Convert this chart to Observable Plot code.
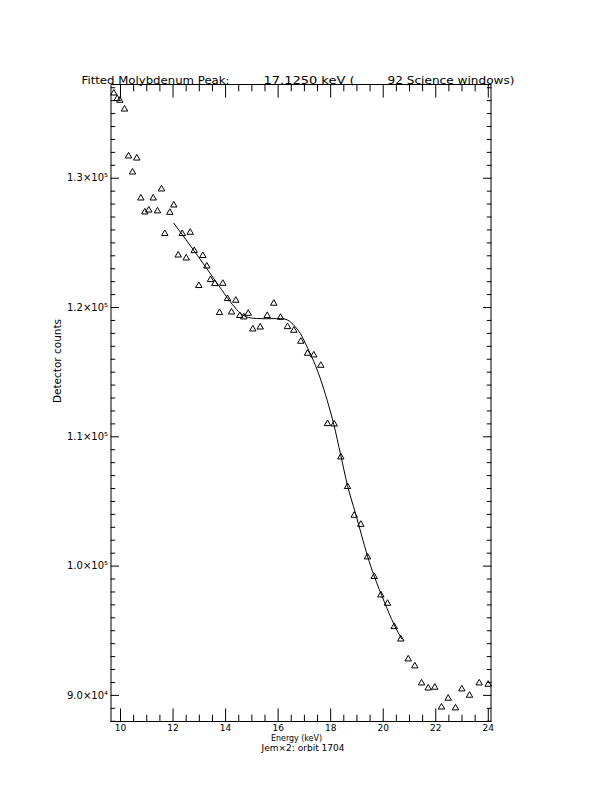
<!DOCTYPE html>
<html>
<head>
<meta charset="utf-8">
<script src="https://cdn.jsdelivr.net/npm/d3@7"></script>
<script src="https://cdn.jsdelivr.net/npm/@observablehq/plot@0.6"></script>
<style>
  body { margin: 0; background: #fff; }
  #chart svg { display: block; }
</style>
</head>
<body>
<div id="chart"></div>
<script>
// measured points (energy in keV, detector counts)
const energy = [9.745, 9.874, 9.973, 10.152, 10.305, 10.457, 10.620, 10.773, 10.925, 11.077,
  11.245, 11.408, 11.561, 11.686, 11.877, 12.029, 12.196, 12.349, 12.501, 12.653,
  12.806, 12.981, 13.133, 13.285, 13.426, 13.590, 13.769, 13.894, 14.073, 14.225,
  14.389, 14.541, 14.694, 14.861, 15.036, 15.318, 15.584, 15.836, 16.091, 16.357,
  16.597, 16.863, 17.118, 17.358, 17.625, 17.880, 18.135, 18.386, 18.641, 18.896,
  19.147, 19.402, 19.657, 19.909, 20.164, 20.419, 20.670, 20.952, 21.203, 21.458,
  21.713, 21.964, 22.219, 22.474, 22.752, 22.992, 23.285, 23.654, 23.997]
const counts = [136650, 136220, 136090, 135410, 131780, 130540, 131620, 128530, 127450, 127600,
  128530, 127530, 129230, 125780, 127420, 127990, 124120, 125780, 123890, 125880,
  124460, 121760, 124080, 123270, 122220, 121910, 119670, 121930, 120750, 119710,
  120620, 119440, 119330, 119610, 118400, 118550, 119440, 120390, 119300, 118580,
  118300, 117450, 116520, 116390, 115590, 111080, 111050, 108500, 106210, 103990,
  103290, 100770, 99250, 97830, 97180, 95380, 94420, 92880, 92340, 91020,
  90630, 90690, 89160, 89840, 89090, 90560, 90070, 91020, 90920]

// fitted curve
const fitEnergy = [12.029, 12.474, 12.931, 13.388, 13.845, 14.263, 14.568, 14.872, 15.177, 15.558,
  15.938, 16.243, 16.471, 16.662, 16.852, 17.107, 17.358, 17.613, 17.868, 18.120,
  18.386, 18.641, 18.946, 19.174, 19.402, 19.657, 20.038, 20.419, 20.697]
const fitCounts = [126520, 125300, 124020, 122710, 121390, 120230, 119540, 119230, 119150, 119130,
  119150, 119110, 118880, 118490, 117970, 116930, 115820, 114470, 112810, 110950,
  108550, 106230, 104070, 102410, 100770, 99230, 97260, 95450, 94400]

const xMajor = [10, 12, 14, 16, 18, 20, 22, 24]
const xMinor = d3.range(10, 24.01, 0.5).filter(v => v % 2 !== 0)
const yMajor = [90000, 100000, 110000, 120000, 130000]
const yMinor = d3.range(88000, 137001, 1000).filter(v => v % 10000 !== 0)

const titleParts = ['Fitted Molybdenum Peak:', '17.1250 keV (', '92 Science windows)']
const xLabel = 'Energy (keV)'
const caption = 'Jem×2: orbit 1704'
const yLabel = 'Detector counts'

const sup = {4: '⁴', 5: '⁵'}
const sciFormat = d => {
  const e = Math.floor(Math.log10(d))
  return (d / 10 ** e).toFixed(1) + '×10' + sup[e]
}

const points = energy.map((e, i) => ({energy: e, counts: counts[i]}))
const fit = fitEnergy.map((e, i) => ({energy: e, counts: fitCounts[i]}))

// a plain line used as tick shape for vector marks
const tickShape = {draw(ctx, l) { ctx.moveTo(0, 0); ctx.lineTo(0, -l) }}
const ticks = (data, opts) => Plot.vector(data, {
  anchor: 'start', shape: tickShape, stroke: 'black', strokeWidth: 1, ...opts
})

const ml = 110.5, mt = 84

let chart = Plot.plot({
  width: 612,
  height: 792,
  marginLeft: ml,
  marginRight: 121.5,
  marginTop: mt,
  marginBottom: 71,
  style: {fontFamily: 'DejaVu Sans', fontSize: '10px', color: 'black', background: 'white'},
  x: {domain: [9.638, 24.103]},
  y: {domain: [87980, 137250]},
  marks: [
    Plot.frame({stroke: 'black'}),
    // bottom and top ticks
    ticks(xMajor, {x: d => d, frameAnchor: 'bottom', rotate: 0, length: 12.7}),
    ticks(xMinor, {x: d => d, frameAnchor: 'bottom', rotate: 0, length: 6.4}),
    ticks(xMajor, {x: d => d, frameAnchor: 'top', rotate: 180, length: 12.7}),
    ticks(xMinor, {x: d => d, frameAnchor: 'top', rotate: 180, length: 6.4}),
    // left and right ticks
    ticks(yMajor, {y: d => d, frameAnchor: 'left', rotate: 90, length: 7.6}),
    ticks(yMinor, {y: d => d, frameAnchor: 'left', rotate: 90, length: 3.8}),
    ticks(yMajor, {y: d => d, frameAnchor: 'right', rotate: -90, length: 7.6}),
    ticks(yMinor, {y: d => d, frameAnchor: 'right', rotate: -90, length: 3.8}),
    Plot.axisX(xMajor, {anchor: 'bottom', tickSize: 0, tickPadding: 3, label: null, fontSize: 9}),
    Plot.axisY(yMajor, {anchor: 'left', tickSize: 0, tickPadding: 3, label: null, tickFormat: sciFormat, fontSize: 10}),
    Plot.line(fit, {x: 'energy', y: 'counts', curve: 'monotone-x', stroke: 'black', strokeWidth: 1}),
    Plot.dot(points, {x: 'energy', y: 'counts', symbol: 'triangle', r: 2.4, stroke: 'black', fill: 'none', strokeWidth: 1, dy: 0.9}),
    // title pieces
    Plot.text([titleParts[0]], {text: d => d, frameAnchor: 'top-left', dx: 81 - ml, dy: -8, textAnchor: 'start', fontSize: 10.5}),
    Plot.text([titleParts[1]], {text: d => d, frameAnchor: 'top-left', dx: 263 - ml, dy: -8, textAnchor: 'start', fontSize: 10.5}),
    Plot.text([titleParts[2]], {text: d => d, frameAnchor: 'top-left', dx: 387 - ml, dy: -8, textAnchor: 'start', fontSize: 10.5}),
    Plot.text([xLabel], {text: d => d, frameAnchor: 'bottom', dx: -4.5, dy: 19, fontSize: 8.5}),
    Plot.text([caption], {text: d => d, frameAnchor: 'bottom', dx: 2, dy: 29, fontSize: 8.5}),
    Plot.text([yLabel], {text: d => d, frameAnchor: 'left', dx: -53, rotate: -90, fontSize: 10})
  ]
})

// stretch the labels to the widths seen in the reference
const lengths = new Map([
  [titleParts[0], 148], [titleParts[1], 91], [titleParts[2], 127],
  [xLabel, 51], [caption, 83], [yLabel, 84]
])
d3.select(chart).selectAll('text').each(function () {
  const L = lengths.get(this.textContent)
  if (L) d3.select(this).attr('textLength', L).attr('lengthAdjust', 'spacingAndGlyphs')
})

d3.select('#chart').append(() => chart)
</script>
</body>
</html>
